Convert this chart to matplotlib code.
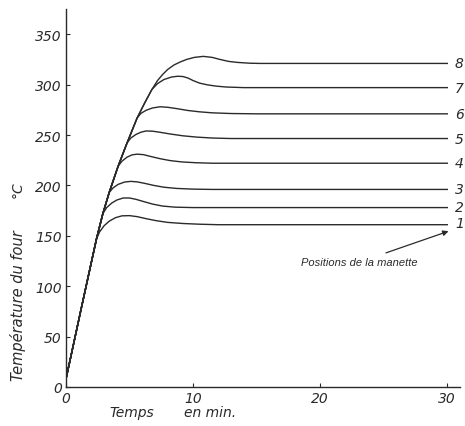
import matplotlib.pyplot as plt

# oven temperature vs time, one curve per knob position (1..8)

# shared heating-up part
rise_t = [0, 1.2, 2.0, 2.4, 2.9, 3.4, 4.1, 4.8, 5.6, 6.2, 6.75, 7.2, 7.6, 8.0, 8.5, 9.0, 9.5, 10.1, 10.8]
rise_T = [8, 78, 124, 147, 172, 193, 219, 242, 267, 282, 295, 304, 310, 315, 319.5, 322.5, 325, 327, 328]

# how many rise points each curve follows before it leaves the envelope
branch = [4, 5, 6, 7, 8, 9, 11, 19]

# part of each curve after it leaves the rise
tail1_t = [2.65, 3.0, 3.4, 3.9, 4.4, 5.0, 5.6, 6.3, 7.1, 8.0, 9.2, 10.5, 12, 30]
tail1_T = [154, 160, 164.5, 168, 169.8, 170, 169, 167, 165, 163.3, 162.2, 161.5, 161, 161]
tail2_t = [3.2, 3.6, 4.0, 4.5, 5.0, 5.5, 6.1, 6.8, 7.6, 8.6, 10, 30]
tail2_T = [178, 182.5, 185.5, 187.5, 187.5, 186.2, 184, 181.5, 179.5, 178.4, 178, 178]
tail3_t = [3.7, 4.1, 4.6, 5.1, 5.6, 6.2, 6.9, 7.7, 8.7, 10, 11.5, 30]
tail3_T = [197.5, 201, 203.3, 204, 203.5, 202, 200, 198.2, 197, 196.3, 196, 196]
tail4_t = [4.4, 4.8, 5.2, 5.6, 6.1, 6.7, 7.4, 8.2, 9.1, 10.2, 11.5, 30]
tail4_T = [224, 228, 230.3, 231, 230.5, 228.6, 226.5, 224.6, 223.3, 222.5, 222, 222]
tail5_t = [5.1, 5.5, 5.9, 6.3, 6.8, 7.4, 8.2, 9.2, 10.3, 11.5, 13, 30]
tail5_T = [247, 250.5, 252.8, 254, 253.8, 252.7, 251, 249.2, 247.9, 247, 246.5, 246.5]
tail6_t = [5.9, 6.3, 6.8, 7.4, 8.0, 8.8, 9.6, 10.5, 11.5, 13, 15, 30]
tail6_T = [271.5, 274.5, 276.8, 278, 277.5, 276, 274.3, 273, 272, 271.3, 271, 271]
tail7_t = [7.2, 7.7, 8.3, 8.8, 9.2, 9.6, 10.0, 10.5, 11.1, 11.8, 12.6, 14, 30]
tail7_T = [301, 305, 307.5, 308.3, 308, 306.5, 304, 301.5, 299.8, 298.5, 297.6, 297, 297]
tail8_t = [11.5, 12.1, 12.8, 13.5, 14.5, 15.3, 30]
tail8_T = [327, 325, 323, 322, 321.2, 321, 321]

tails = [(tail1_t, tail1_T), (tail2_t, tail2_T), (tail3_t, tail3_T), (tail4_t, tail4_T),
         (tail5_t, tail5_T), (tail6_t, tail6_T), (tail7_t, tail7_T), (tail8_t, tail8_T)]

labels = ['1', '2', '3', '4', '5', '6', '7', '8']
label_dy = [2, 1, 0, 0, 0, 0, 0, 0]

yticks = [0, 50, 100, 150, 200, 250, 300, 350]
xticks = [0, 10, 20, 30]

ink = '#2a2a2a'

fig = plt.figure(figsize=(4.65, 4.27), dpi=100)
ax = fig.add_axes([66 / 465, 39 / 427, 394 / 465, 378 / 427])

for i, (tt, TT) in enumerate(tails):
    n = branch[i]
    ax.plot(rise_t[:n] + tt, rise_T[:n] + TT, color=ink, lw=1.0)
    ax.text(30.6, TT[-1] + label_dy[i], labels[i], fontsize=10, style='italic',
            va='center', ha='left', color=ink)

ax.set_xlim(0, 31)
ax.set_ylim(0, 375)
ax.set_xticks(xticks)
ax.set_yticks(yticks)
ax.tick_params(direction='in', length=3, width=0.8, colors=ink, labelsize=10, pad=3)
for lab in ax.get_xticklabels() + ax.get_yticklabels():
    lab.set_style('italic')

for s in ['top', 'right']:
    ax.spines[s].set_visible(False)
for s in ['left', 'bottom']:
    ax.spines[s].set_color(ink)
    ax.spines[s].set_linewidth(1.0)

# axis titles placed by hand like the original drawing
fig.text(132 / 465, 1 - 413 / 427, 'Temps', fontsize=10, style='italic',
         ha='center', va='center', color=ink)
fig.text(210 / 465, 1 - 413 / 427, 'en min.', fontsize=10, style='italic',
         ha='center', va='center', color=ink)
fig.text(18 / 465, 1 - 306 / 427, 'Température du four', fontsize=10.5, style='italic',
         rotation=90, ha='center', va='center', color=ink)
fig.text(18 / 465, 1 - 190 / 427, '°C', fontsize=10, style='italic',
         rotation=90, ha='center', va='center', color=ink)

ax.annotate('Positions de la manette', xy=(30.2, 155), xytext=(23.1, 124),
            fontsize=8, style='italic', family='Liberation Sans',
            ha='center', va='center', color=ink,
            arrowprops=dict(arrowstyle='-|>', color=ink, lw=0.9, mutation_scale=8,
                            shrinkA=3, shrinkB=1))

fig.savefig('out.png', dpi=100)
